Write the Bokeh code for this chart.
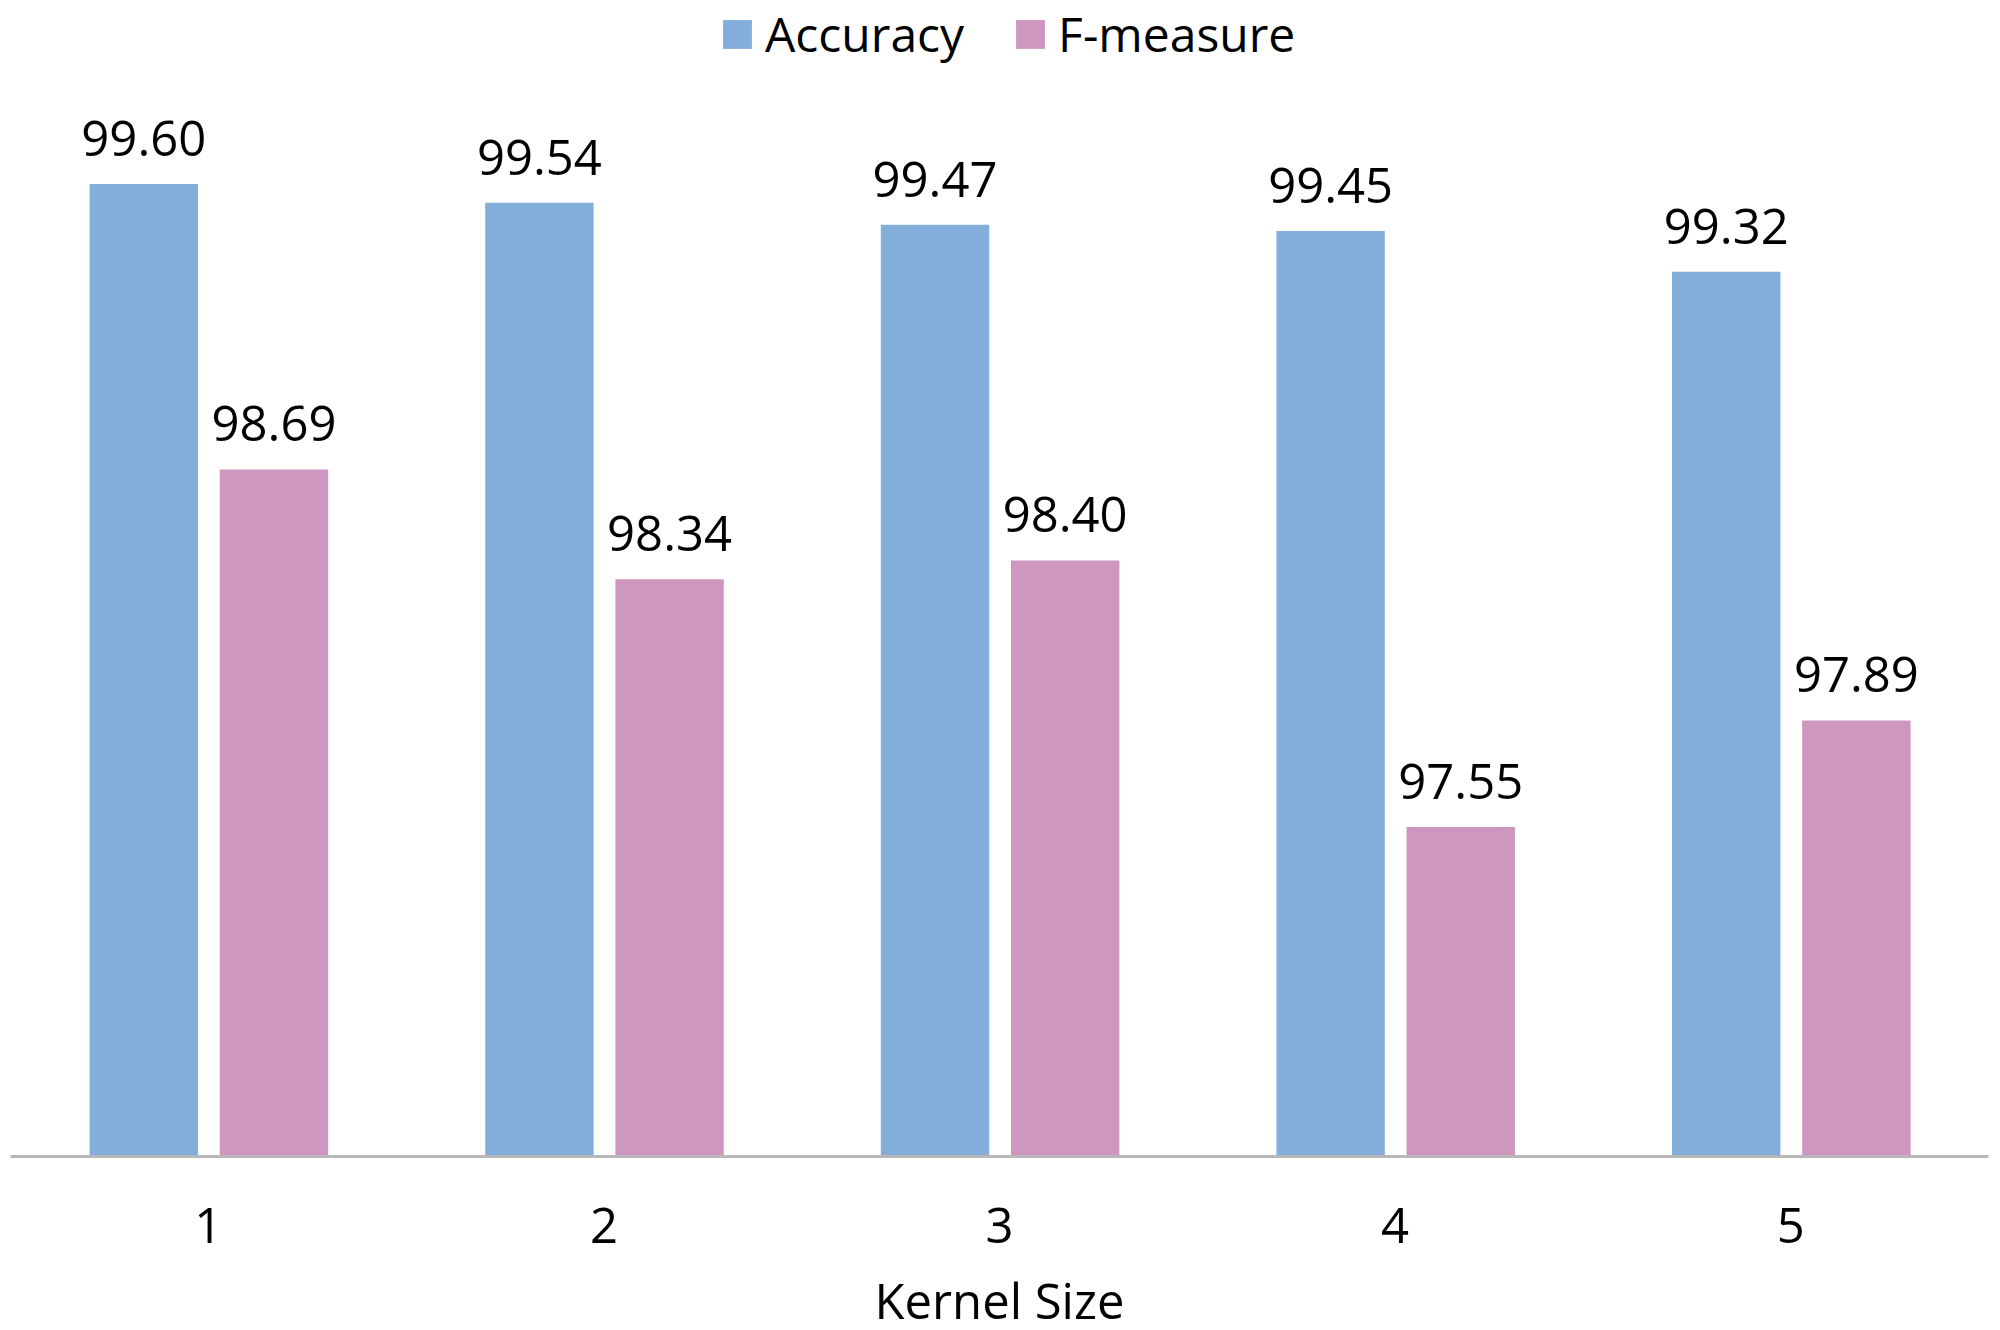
from bokeh.plotting import figure
from bokeh.models import ColumnDataSource, Legend, LegendItem, Range1d, FactorRange, LabelSet
from bokeh.transform import dodge
from bokeh.core.properties import value
from bokeh.embed import file_html
from bokeh.resources import INLINE

kernel_sizes = ["1", "2", "3", "4", "5"]
accuracy = [99.60, 99.54, 99.47, 99.45, 99.32]
f_measure = [98.69, 98.34, 98.40, 97.55, 97.89]
series_names = ["Accuracy", "F-measure"]

BLUE = "#82AED9"
PINK = "#CF97BF"
FONT = "Open Sans"
FRAME_H = 1156

src = ColumnDataSource(dict(
    k=kernel_sizes,
    acc=accuracy,
    fm=f_measure,
    acc_txt=[f"{v:.2f}" for v in accuracy],
    fm_txt=[f"{v:.2f}" for v in f_measure],
))

p = figure(
    x_range=FactorRange(*kernel_sizes, range_padding=0),
    y_range=Range1d(96.5, 100.185),
    frame_width=1978, frame_height=FRAME_H,
    min_border_left=10, min_border_right=4, min_border_top=0, min_border_bottom=0,
    output_backend="svg", toolbar_location=None,
)
p.x_range.range_padding = 0

bw = 0.274
r1 = p.vbar(x=dodge("k", -0.163, range=p.x_range), top="acc", bottom=96.5, width=bw,
            source=src, fill_color=BLUE, line_color=None)
r2 = p.vbar(x=dodge("k", 0.166, range=p.x_range), top="fm", bottom=96.5, width=bw,
            source=src, fill_color=PINK, line_color=None)

for xoff, col, txt in [(-0.163, "acc", "acc_txt"), (0.166, "fm", "fm_txt")]:
    lbl = LabelSet(x=dodge("k", xoff, range=p.x_range), y=col, text=txt, source=src,
                   text_align="center", text_baseline="alphabetic", y_offset=28,
                   text_font=value(FONT), text_font_size="49px", text_color="#000000")
    p.add_layout(lbl)

legend = Legend(items=[LegendItem(label=series_names[0], renderers=[r1]),
                       LegendItem(label=series_names[1], renderers=[r2])],
                location=(709, FRAME_H - 66), orientation="horizontal",
                label_text_font=FONT, label_text_font_size="48px", label_text_color="#000000",
                glyph_width=36, glyph_height=36, label_standoff=10, spacing=48,
                padding=0, margin=0, border_line_alpha=0, background_fill_alpha=0)
p.add_layout(legend, "center")

p.yaxis.visible = False
p.xgrid.visible = False
p.ygrid.visible = False
p.outline_line_color = None

xa = p.xaxis[0]
xa.axis_line_color = "#B8B8B8"
xa.axis_line_width = 3
xa.major_tick_line_color = None
xa.minor_tick_line_color = None
xa.major_label_text_font = FONT
xa.major_label_text_font_size = "49px"
xa.major_label_text_color = "#000000"
xa.major_label_standoff = 45
xa.axis_label = "Kernel Size"
xa.axis_label_text_font = FONT
xa.axis_label_text_font_size = "49px"
xa.axis_label_text_font_style = "normal"
xa.axis_label_text_color = "#000000"
xa.axis_label_standoff = 21

open("out.html", "w").write(file_html(p, INLINE))
